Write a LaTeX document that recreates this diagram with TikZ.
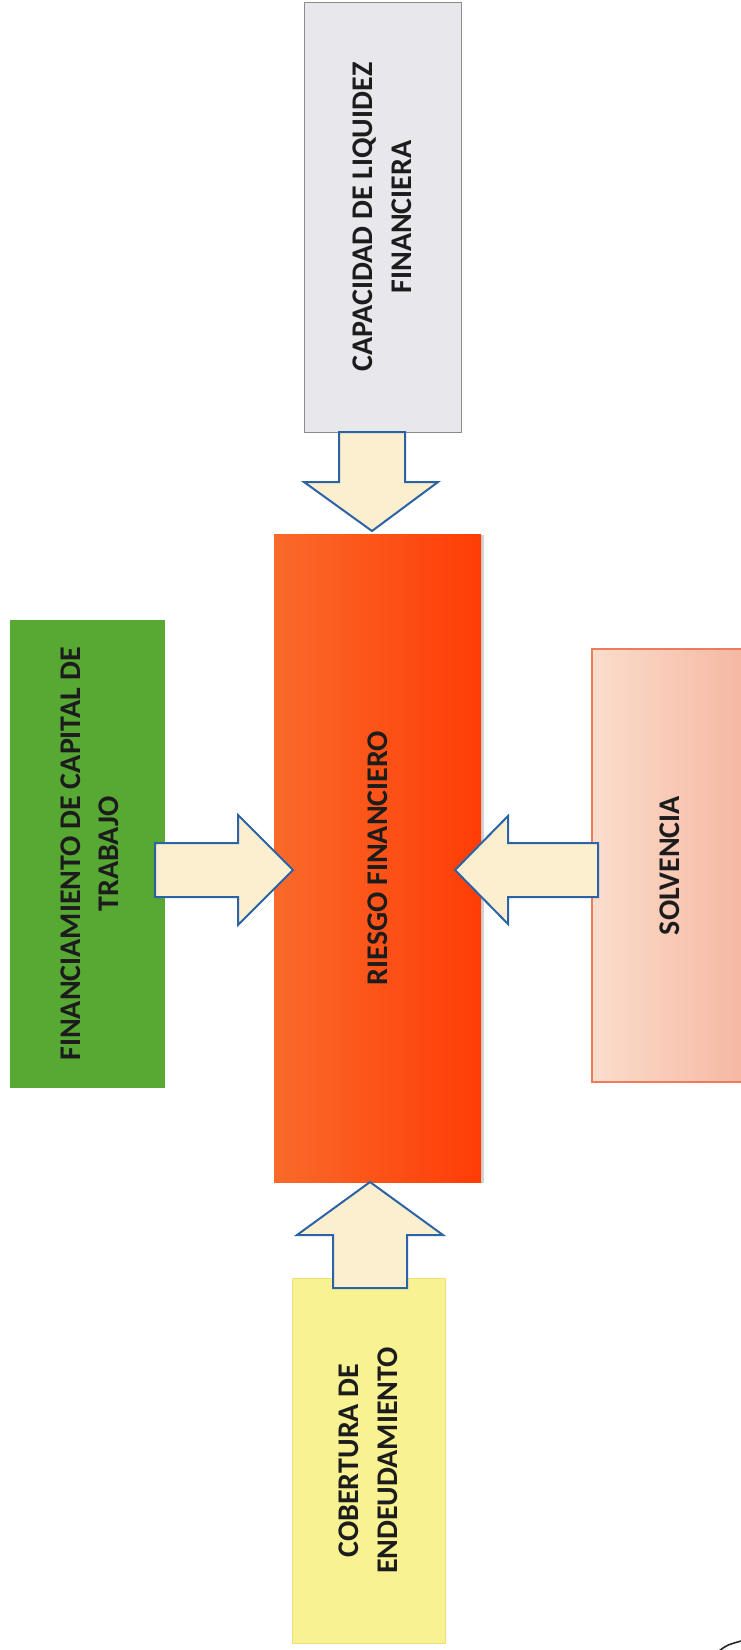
\documentclass[tikz,border=0pt]{standalone}
\usepackage{fontspec}
\setmainfont{Carlito}
\usetikzlibrary{shadows}
\definecolor{capfill}{HTML}{E8E8EC}
\definecolor{capline}{HTML}{8C8C8C}
\definecolor{riskL}{HTML}{F96A2A}
\definecolor{riskR}{HTML}{FF3C06}
\definecolor{greenfill}{HTML}{58A934}
\definecolor{solvL}{HTML}{FBDDCC}
\definecolor{solvR}{HTML}{F5B7A1}
\definecolor{solvline}{HTML}{F07A5C}
\definecolor{yelfill}{HTML}{F8F292}
\definecolor{yelline}{HTML}{EEDF78}
\definecolor{arrowfill}{HTML}{FBEFD0}
\definecolor{arrowline}{HTML}{2B63A6}
\definecolor{txt}{HTML}{1C1C1C}
\tikzset{
  box/.style={rectangle, inner sep=0pt, outer sep=0pt},
  lbl/.style={rotate=90, align=center, font=\fontsize{30}{38.5}\selectfont\bfseries, text=txt, inner sep=0pt},
  barrow/.style={fill=arrowfill, draw=arrowline, line width=2pt, line join=miter},
}
\begin{document}
\begin{tikzpicture}[x=1pt,y=-1pt]
\useasboundingbox (0,0) rectangle (741,1650);
\clip (0,0) rectangle (741,1650);
\fill[white] (0,0) rectangle (741,1650);

% boxes
\node[box, fill=capfill, draw=capline, line width=1pt, minimum width=157, minimum height=430] (cap) at (382.5,217) {};
\node[box, left color=riskL, right color=riskR, minimum width=207, minimum height=648,
      drop shadow={shadow xshift=2.5pt, shadow yshift=-1pt, opacity=0.35}] (risk) at (377.5,858) {};
\node[box, fill=greenfill, minimum width=155, minimum height=468] (fin) at (87.5,854) {};
\node[box, left color=solvL, right color=solvR, draw=solvline, line width=1.2pt, minimum width=156, minimum height=433] (solv) at (670,865.5) {};
\node[box, fill=yelfill, draw=yelline, line width=1pt, minimum width=153, minimum height=365] (cob) at (368.5,1460.5) {};

% labels
\node[lbl] (capT) at (cap.center) {CAPACIDAD DE LIQUIDEZ\\FINANCIERA};
\node[lbl] (riskT) at (risk.center) {RIESGO FINANCIERO};
\node[lbl] (finT) at (90,854) {FINANCIAMIENTO DE CAPITAL DE\\TRABAJO};
\node[lbl] (solvT) at (670,865.5) {SOLVENCIA};
\node[lbl] (cobT) at (cob.center) {COBERTURA DE\\ENDEUDAMIENTO};

% block arrows
\draw[barrow] (339,432) -- (405,432) -- (405,482) -- (438,482) -- (372,531) -- (304,482) -- (339,482) -- cycle;
\draw[barrow] (155,843) -- (238,843) -- (238,815) -- (293,870) -- (238,925) -- (238,897) -- (155,897) -- cycle;
\draw[barrow] (598,843) -- (508,843) -- (508,816) -- (455,870) -- (508,924) -- (508,897) -- (598,897) -- cycle;
\draw[barrow] (333,1288) -- (333,1235) -- (297,1235) -- (370,1182) -- (443,1235) -- (407,1235) -- (407,1288) -- cycle;

% stray pen mark at the corner
\draw[line width=1.6pt, black!85, line cap=round] (719,1651) .. controls (727,1645) .. (741,1641);
\end{tikzpicture}
\end{document}
